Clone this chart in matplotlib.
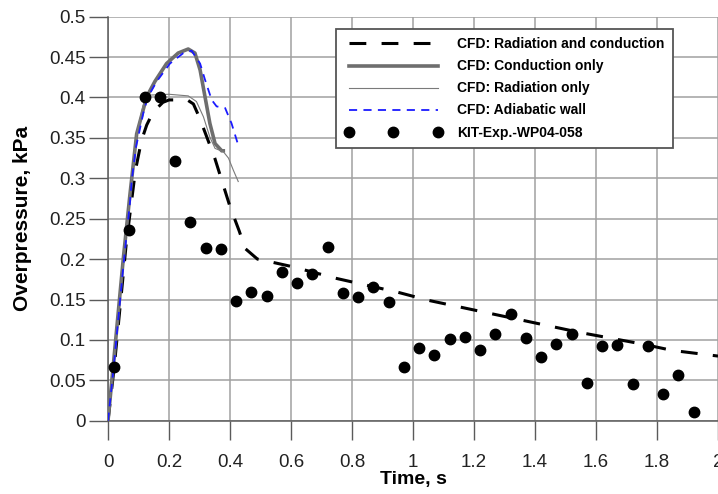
import matplotlib
matplotlib.use('Agg')
from matplotlib import pyplot as plt

plt.rcParams['font.family'] = ['Liberation Sans', 'DejaVu Sans']

# CFD: Radiation and conduction
rc_t = [0, 0.02, 0.06, 0.09, 0.11, 0.127, 0.148, 0.18, 0.2, 0.26, 0.28, 0.3, 0.35,
        0.4, 0.43, 0.45, 0.49, 0.54, 0.6, 0.75, 0.95, 1.05, 1.25, 1.35, 1.45,
        1.55, 1.65, 1.75, 1.85, 2.0]
rc_p = [0, 0.065, 0.22, 0.31, 0.347, 0.366, 0.382, 0.394, 0.397, 0.397, 0.392, 0.375, 0.325,
        0.265, 0.235, 0.213, 0.2, 0.196, 0.191, 0.176, 0.159, 0.149, 0.133, 0.125, 0.117,
        0.109, 0.102, 0.095, 0.087, 0.08]

# CFD: Conduction only
co_t = [0, 0.017, 0.05, 0.072, 0.094, 0.127, 0.154, 0.192, 0.23, 0.263, 0.285, 0.302, 0.318,
        0.334, 0.351, 0.373, 0.378]
co_p = [0, 0.067, 0.2, 0.28, 0.355, 0.401, 0.42, 0.442, 0.455, 0.46, 0.455, 0.434, 0.401,
        0.368, 0.343, 0.334, 0.334]

# CFD: Radiation only
ro_t = [0, 0.017, 0.05, 0.072, 0.094, 0.115, 0.138, 0.2, 0.263, 0.29, 0.313, 0.334, 0.351,
        0.378, 0.395, 0.411, 0.427]
ro_p = [0, 0.067, 0.2, 0.28, 0.355, 0.39, 0.403, 0.404, 0.402, 0.395, 0.376, 0.351, 0.337,
        0.333, 0.325, 0.31, 0.296]

# CFD: Adiabatic wall
ad_t = [0, 0.017, 0.05, 0.072, 0.078, 0.092, 0.116, 0.13, 0.16, 0.203, 0.247, 0.274, 0.302,
        0.318, 0.34, 0.356, 0.384, 0.405, 0.427]
ad_p = [0, 0.06, 0.19, 0.27, 0.298, 0.339, 0.381, 0.4, 0.42, 0.442, 0.455, 0.458, 0.442,
        0.422, 0.397, 0.389, 0.387, 0.368, 0.341]

# KIT-Exp.-WP04-058
exp_t = [0.02, 0.07, 0.12, 0.17, 0.22, 0.27, 0.32, 0.37, 0.42, 0.47, 0.52, 0.57, 0.62,
         0.67, 0.72, 0.77, 0.82, 0.87, 0.92, 0.97, 1.02, 1.07, 1.12, 1.17, 1.22, 1.27,
         1.32, 1.37, 1.42, 1.47, 1.52, 1.57, 1.62, 1.67, 1.72, 1.77, 1.82, 1.87, 1.92]
exp_p = [0.066, 0.236, 0.4, 0.4, 0.321, 0.246, 0.214, 0.213, 0.148, 0.159, 0.154, 0.184,
         0.171, 0.181, 0.215, 0.158, 0.153, 0.165, 0.147, 0.067, 0.090, 0.081, 0.101,
         0.103, 0.088, 0.107, 0.132, 0.102, 0.079, 0.095, 0.107, 0.047, 0.093, 0.094,
         0.045, 0.093, 0.033, 0.057, 0.011]

fig = plt.figure(figsize=(7.18, 4.94), dpi=100)
ax = fig.add_axes([108/718, 73.3/494, 610/718, 404/494])

ax.plot(rc_t, rc_p, color='k', lw=2.2, dashes=(5.5, 5), label='CFD: Radiation and conduction', zorder=3)
ax.plot(co_t, co_p, color='#6e6e6e', lw=2.6, label='CFD: Conduction only', zorder=4)
ax.plot(ro_t, ro_p, color='#7a7a7a', lw=0.8, label='CFD: Radiation only', zorder=5)
ax.plot(ad_t, ad_p, color='#1a1aff', lw=1.3, dashes=(4.5, 3.5), label='CFD: Adiabatic wall', zorder=6)
ax.plot(exp_t, exp_p, 'o', color='k', ms=7.5, label='KIT-Exp.-WP04-058', zorder=7)

ax.set_xlim(0, 2)
ax.set_ylim(0, 0.5)
ax.set_xticks([0, 0.2, 0.4, 0.6, 0.8, 1, 1.2, 1.4, 1.6, 1.8, 2])
ax.set_xticklabels(['0', '0.2', '0.4', '0.6', '0.8', '1', '1.2', '1.4', '1.6', '1.8', '2'])
ax.set_yticks([0, 0.05, 0.1, 0.15, 0.2, 0.25, 0.3, 0.35, 0.4, 0.45, 0.5])
ax.set_yticklabels(['0', '0.05', '0.1', '0.15', '0.2', '0.25', '0.3', '0.35', '0.4', '0.45', '0.5'])

ax.grid(True, color='#a0a0a0', lw=1.1)
ax.set_axisbelow(True)
for s in ['top', 'right']:
    ax.spines[s].set_visible(False)
for s in ['left', 'bottom']:
    ax.spines[s].set_color('#5a5a5a')
    ax.spines[s].set_linewidth(1.1)
ax.tick_params(axis='both', direction='out', length=14, width=1, color='#5a5a5a',
               labelsize=13.5, labelcolor='#222222')
ax.tick_params(axis='x', pad=10)
ax.tick_params(axis='y', pad=2)

ax.set_xlabel('Time, s', fontsize=14, fontweight='bold', labelpad=0)
ax.set_ylabel('Overpressure, kPa', fontsize=15, fontweight='bold', labelpad=12)

leg = ax.legend(loc='upper right', bbox_to_anchor=(0.926, 0.9696), borderaxespad=0,
                prop={'size': 10, 'weight': 'bold'}, handlelength=7.0, handletextpad=1.1,
                labelspacing=0.58, numpoints=3, fancybox=False, framealpha=1,
                edgecolor='#555555', borderpad=0.6)
leg.get_frame().set_linewidth(1.3)

fig.savefig('out.png', dpi=100)
